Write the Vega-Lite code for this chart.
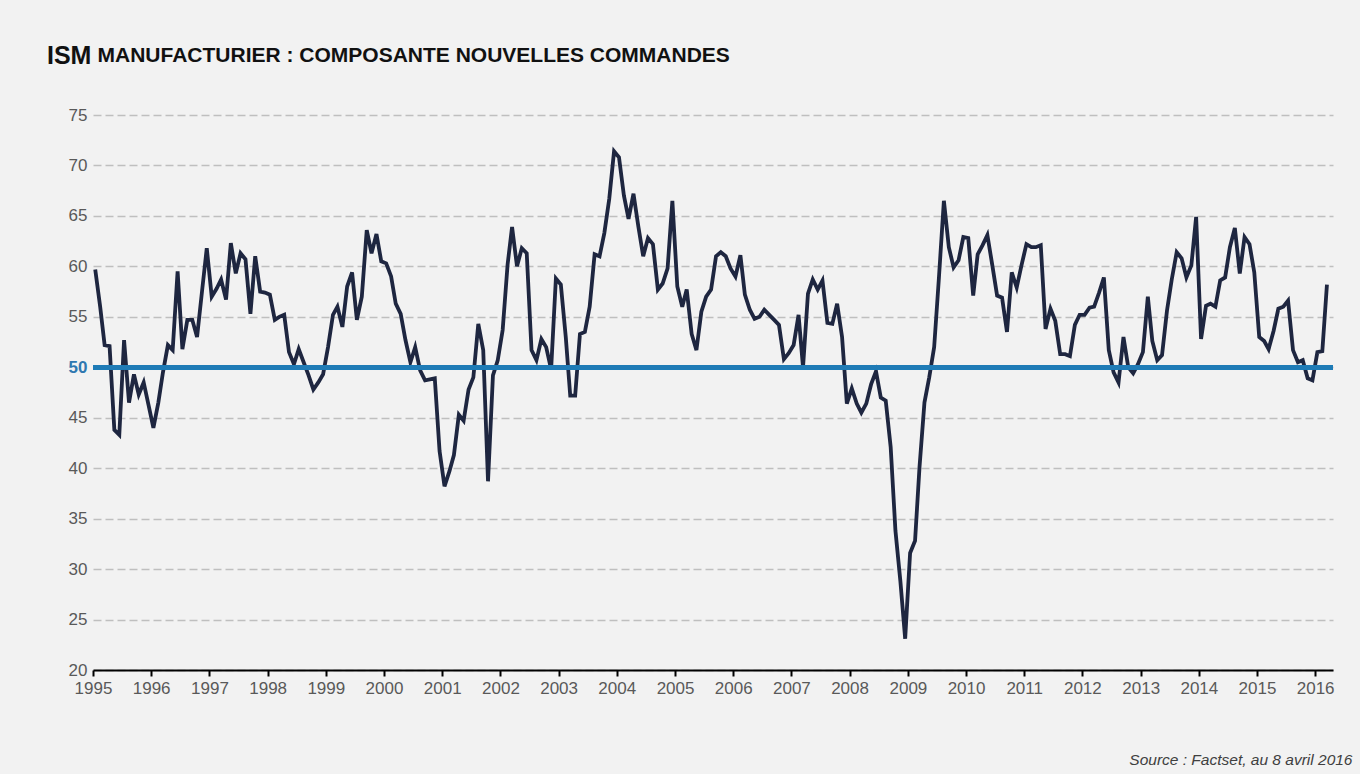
{
  "$schema": "https://vega.github.io/schema/vega-lite/v6.json",
  "width": 1240,
  "height": 555,
  "autosize": {"type": "none"},
  "padding": {"left": 93, "top": 115, "right": 27, "bottom": 104},
  "background": "#F2F2F2",
  "config": {
    "view": {"stroke": null},
    "font": "Liberation Sans"
  },
  "title": {
    "text": "ISM",
    "anchor": "start",
    "frame": "group",
    "dx": -46,
    "offset": -25,
    "font": "Liberation Sans",
    "fontSize": 25,
    "fontWeight": "bold",
    "color": "#111111"
  },
  "data": {
    "values": [
      {"date": "1995-01-15", "value": 59.7}, {"date": "1995-02-15", "value": 56.0}, {"date": "1995-03-15", "value": 52.2}, {"date": "1995-04-15", "value": 52.1}, {"date": "1995-05-15", "value": 43.8}, {"date": "1995-06-15", "value": 43.3}, {"date": "1995-07-15", "value": 52.7}, {"date": "1995-08-15", "value": 46.5}, {"date": "1995-09-15", "value": 49.3}, {"date": "1995-10-15", "value": 47.3}, {"date": "1995-11-15", "value": 48.5}, {"date": "1995-12-15", "value": 46.3},
      {"date": "1996-01-15", "value": 44.0}, {"date": "1996-02-15", "value": 46.5}, {"date": "1996-03-15", "value": 49.5}, {"date": "1996-04-15", "value": 52.2}, {"date": "1996-05-15", "value": 51.7}, {"date": "1996-06-15", "value": 59.5}, {"date": "1996-07-15", "value": 51.8}, {"date": "1996-08-15", "value": 54.7}, {"date": "1996-09-15", "value": 54.7}, {"date": "1996-10-15", "value": 53.0}, {"date": "1996-11-15", "value": 57.5}, {"date": "1996-12-15", "value": 61.8},
      {"date": "1997-01-15", "value": 57.0}, {"date": "1997-02-15", "value": 57.8}, {"date": "1997-03-15", "value": 58.7}, {"date": "1997-04-15", "value": 56.7}, {"date": "1997-05-15", "value": 62.3}, {"date": "1997-06-15", "value": 59.3}, {"date": "1997-07-15", "value": 61.3}, {"date": "1997-08-15", "value": 60.7}, {"date": "1997-09-15", "value": 55.3}, {"date": "1997-10-15", "value": 61.0}, {"date": "1997-11-15", "value": 57.5}, {"date": "1997-12-15", "value": 57.4},
      {"date": "1998-01-15", "value": 57.2}, {"date": "1998-02-15", "value": 54.7}, {"date": "1998-03-15", "value": 55.0}, {"date": "1998-04-15", "value": 55.2}, {"date": "1998-05-15", "value": 51.5}, {"date": "1998-06-15", "value": 50.3}, {"date": "1998-07-15", "value": 51.8}, {"date": "1998-08-15", "value": 50.5}, {"date": "1998-09-15", "value": 49.2}, {"date": "1998-10-15", "value": 47.8}, {"date": "1998-11-15", "value": 48.5}, {"date": "1998-12-15", "value": 49.3},
      {"date": "1999-01-15", "value": 52.0}, {"date": "1999-02-15", "value": 55.2}, {"date": "1999-03-15", "value": 56.0}, {"date": "1999-04-15", "value": 54.0}, {"date": "1999-05-15", "value": 58.0}, {"date": "1999-06-15", "value": 59.4}, {"date": "1999-07-15", "value": 54.7}, {"date": "1999-08-15", "value": 57.0}, {"date": "1999-09-15", "value": 63.6}, {"date": "1999-10-15", "value": 61.3}, {"date": "1999-11-15", "value": 63.2}, {"date": "1999-12-15", "value": 60.5},
      {"date": "2000-01-15", "value": 60.3}, {"date": "2000-02-15", "value": 59.0}, {"date": "2000-03-15", "value": 56.3}, {"date": "2000-04-15", "value": 55.3}, {"date": "2000-05-15", "value": 52.7}, {"date": "2000-06-15", "value": 50.5}, {"date": "2000-07-15", "value": 52.0}, {"date": "2000-08-15", "value": 49.7}, {"date": "2000-09-15", "value": 48.7}, {"date": "2000-10-15", "value": 48.8}, {"date": "2000-11-15", "value": 48.9}, {"date": "2000-12-15", "value": 41.7},
      {"date": "2001-01-15", "value": 38.2}, {"date": "2001-02-15", "value": 39.7}, {"date": "2001-03-15", "value": 41.3}, {"date": "2001-04-15", "value": 45.3}, {"date": "2001-05-15", "value": 44.7}, {"date": "2001-06-15", "value": 47.8}, {"date": "2001-07-15", "value": 49.0}, {"date": "2001-08-15", "value": 54.3}, {"date": "2001-09-15", "value": 51.7}, {"date": "2001-10-15", "value": 38.7}, {"date": "2001-11-15", "value": 49.2}, {"date": "2001-12-15", "value": 50.7},
      {"date": "2002-01-15", "value": 53.7}, {"date": "2002-02-15", "value": 60.2}, {"date": "2002-03-15", "value": 63.9}, {"date": "2002-04-15", "value": 60.0}, {"date": "2002-05-15", "value": 61.8}, {"date": "2002-06-15", "value": 61.3}, {"date": "2002-07-15", "value": 51.7}, {"date": "2002-08-15", "value": 50.7}, {"date": "2002-09-15", "value": 52.8}, {"date": "2002-10-15", "value": 52.0}, {"date": "2002-11-15", "value": 49.8}, {"date": "2002-12-15", "value": 58.8},
      {"date": "2003-01-15", "value": 58.2}, {"date": "2003-02-15", "value": 53.0}, {"date": "2003-03-15", "value": 47.2}, {"date": "2003-04-15", "value": 47.2}, {"date": "2003-05-15", "value": 53.3}, {"date": "2003-06-15", "value": 53.5}, {"date": "2003-07-15", "value": 56.0}, {"date": "2003-08-15", "value": 61.2}, {"date": "2003-09-15", "value": 61.0}, {"date": "2003-10-15", "value": 63.3}, {"date": "2003-11-15", "value": 66.7}, {"date": "2003-12-15", "value": 71.4},
      {"date": "2004-01-15", "value": 70.8}, {"date": "2004-02-15", "value": 67.0}, {"date": "2004-03-15", "value": 64.7}, {"date": "2004-04-15", "value": 67.2}, {"date": "2004-05-15", "value": 64.0}, {"date": "2004-06-15", "value": 61.0}, {"date": "2004-07-15", "value": 62.8}, {"date": "2004-08-15", "value": 62.2}, {"date": "2004-09-15", "value": 57.7}, {"date": "2004-10-15", "value": 58.3}, {"date": "2004-11-15", "value": 59.8}, {"date": "2004-12-15", "value": 66.5},
      {"date": "2005-01-15", "value": 58.0}, {"date": "2005-02-15", "value": 56.0}, {"date": "2005-03-15", "value": 57.7}, {"date": "2005-04-15", "value": 53.3}, {"date": "2005-05-15", "value": 51.7}, {"date": "2005-06-15", "value": 55.5}, {"date": "2005-07-15", "value": 57.0}, {"date": "2005-08-15", "value": 57.7}, {"date": "2005-09-15", "value": 61.0}, {"date": "2005-10-15", "value": 61.4}, {"date": "2005-11-15", "value": 61.0}, {"date": "2005-12-15", "value": 59.8},
      {"date": "2006-01-15", "value": 59.0}, {"date": "2006-02-15", "value": 61.1}, {"date": "2006-03-15", "value": 57.2}, {"date": "2006-04-15", "value": 55.7}, {"date": "2006-05-15", "value": 54.8}, {"date": "2006-06-15", "value": 55.0}, {"date": "2006-07-15", "value": 55.7}, {"date": "2006-08-15", "value": 55.2}, {"date": "2006-09-15", "value": 54.7}, {"date": "2006-10-15", "value": 54.2}, {"date": "2006-11-15", "value": 50.8}, {"date": "2006-12-15", "value": 51.4},
      {"date": "2007-01-15", "value": 52.2}, {"date": "2007-02-15", "value": 55.2}, {"date": "2007-03-15", "value": 50.0}, {"date": "2007-04-15", "value": 57.3}, {"date": "2007-05-15", "value": 58.7}, {"date": "2007-06-15", "value": 57.7}, {"date": "2007-07-15", "value": 58.6}, {"date": "2007-08-15", "value": 54.4}, {"date": "2007-09-15", "value": 54.3}, {"date": "2007-10-15", "value": 56.3}, {"date": "2007-11-15", "value": 53.0}, {"date": "2007-12-15", "value": 46.4},
      {"date": "2008-01-15", "value": 47.9}, {"date": "2008-02-15", "value": 46.4}, {"date": "2008-03-15", "value": 45.5}, {"date": "2008-04-15", "value": 46.4}, {"date": "2008-05-15", "value": 48.3}, {"date": "2008-06-15", "value": 49.6}, {"date": "2008-07-15", "value": 47.0}, {"date": "2008-08-15", "value": 46.7}, {"date": "2008-09-15", "value": 42.1}, {"date": "2008-10-15", "value": 33.8}, {"date": "2008-11-15", "value": 28.8}, {"date": "2008-12-15", "value": 23.1},
      {"date": "2009-01-15", "value": 31.6}, {"date": "2009-02-15", "value": 32.8}, {"date": "2009-03-15", "value": 40.1}, {"date": "2009-04-15", "value": 46.5}, {"date": "2009-05-15", "value": 49.0}, {"date": "2009-06-15", "value": 52.0}, {"date": "2009-07-15", "value": 58.9}, {"date": "2009-08-15", "value": 66.5}, {"date": "2009-09-15", "value": 61.9}, {"date": "2009-10-15", "value": 59.9}, {"date": "2009-11-15", "value": 60.6}, {"date": "2009-12-15", "value": 62.9},
      {"date": "2010-01-15", "value": 62.8}, {"date": "2010-02-15", "value": 57.1}, {"date": "2010-03-15", "value": 61.2}, {"date": "2010-04-15", "value": 62.1}, {"date": "2010-05-15", "value": 63.1}, {"date": "2010-06-15", "value": 60.1}, {"date": "2010-07-15", "value": 57.1}, {"date": "2010-08-15", "value": 56.9}, {"date": "2010-09-15", "value": 53.5}, {"date": "2010-10-15", "value": 59.4}, {"date": "2010-11-15", "value": 57.9}, {"date": "2010-12-15", "value": 60.1},
      {"date": "2011-01-15", "value": 62.2}, {"date": "2011-02-15", "value": 61.9}, {"date": "2011-03-15", "value": 61.9}, {"date": "2011-04-15", "value": 62.1}, {"date": "2011-05-15", "value": 53.8}, {"date": "2011-06-15", "value": 55.8}, {"date": "2011-07-15", "value": 54.6}, {"date": "2011-08-15", "value": 51.3}, {"date": "2011-09-15", "value": 51.3}, {"date": "2011-10-15", "value": 51.1}, {"date": "2011-11-15", "value": 54.2}, {"date": "2011-12-15", "value": 55.2},
      {"date": "2012-01-15", "value": 55.2}, {"date": "2012-02-15", "value": 55.9}, {"date": "2012-03-15", "value": 56.0}, {"date": "2012-04-15", "value": 57.4}, {"date": "2012-05-15", "value": 58.9}, {"date": "2012-06-15", "value": 51.7}, {"date": "2012-07-15", "value": 49.5}, {"date": "2012-08-15", "value": 48.5}, {"date": "2012-09-15", "value": 53.0}, {"date": "2012-10-15", "value": 50.0}, {"date": "2012-11-15", "value": 49.4}, {"date": "2012-12-15", "value": 50.3},
      {"date": "2013-01-15", "value": 51.5}, {"date": "2013-02-15", "value": 57.0}, {"date": "2013-03-15", "value": 52.6}, {"date": "2013-04-15", "value": 50.7}, {"date": "2013-05-15", "value": 51.2}, {"date": "2013-06-15", "value": 55.6}, {"date": "2013-07-15", "value": 58.7}, {"date": "2013-08-15", "value": 61.4}, {"date": "2013-09-15", "value": 60.8}, {"date": "2013-10-15", "value": 58.9}, {"date": "2013-11-15", "value": 60.1}, {"date": "2013-12-15", "value": 64.9},
      {"date": "2014-01-15", "value": 52.8}, {"date": "2014-02-15", "value": 56.1}, {"date": "2014-03-15", "value": 56.3}, {"date": "2014-04-15", "value": 56.0}, {"date": "2014-05-15", "value": 58.6}, {"date": "2014-06-15", "value": 58.9}, {"date": "2014-07-15", "value": 61.9}, {"date": "2014-08-15", "value": 63.8}, {"date": "2014-09-15", "value": 59.3}, {"date": "2014-10-15", "value": 62.9}, {"date": "2014-11-15", "value": 62.2}, {"date": "2014-12-15", "value": 59.4},
      {"date": "2015-01-15", "value": 53.0}, {"date": "2015-02-15", "value": 52.6}, {"date": "2015-03-15", "value": 51.8}, {"date": "2015-04-15", "value": 53.6}, {"date": "2015-05-15", "value": 55.8}, {"date": "2015-06-15", "value": 56.0}, {"date": "2015-07-15", "value": 56.6}, {"date": "2015-08-15", "value": 51.7}, {"date": "2015-09-15", "value": 50.5}, {"date": "2015-10-15", "value": 50.7}, {"date": "2015-11-15", "value": 48.9}, {"date": "2015-12-15", "value": 48.7},
      {"date": "2016-01-15", "value": 51.5}, {"date": "2016-02-15", "value": 51.6}, {"date": "2016-03-15", "value": 58.2}
    ]
  },
  "layer": [
    {
      "mark": {"type": "line", "color": "#1E2640", "strokeWidth": 3.8},
      "encoding": {
        "x": {
          "field": "date",
          "type": "temporal",
          "scale": {
            "type": "utc",
            "domain": [
              {"year": 1995, "month": 1, "date": 1, "utc": true},
              {"year": 2016, "month": 4, "date": 22, "utc": true}
            ],
            "nice": false
          },
          "axis": {
            "format": "%Y",
            "tickCount": {"interval": "year", "step": 1},
            "grid": false,
            "domainColor": "#000000",
            "domainWidth": 2,
            "tickColor": "#000000",
            "tickWidth": 2,
            "tickSize": 6,
            "labelFont": "Liberation Sans",
            "labelFontSize": 17,
            "labelColor": "#595959",
            "labelPadding": 4,
            "labelFlush": false,
            "labelOverlap": false,
            "title": "Source : Factset, au 8 avril 2016",
            "titleFont": "Liberation Sans",
            "titleFontSize": 15.5,
            "titleFontStyle": "italic",
            "titleFontWeight": "normal",
            "titleColor": "#404040",
            "titleAlign": "right",
            "titleAnchor": "end",
            "titleBaseline": "alphabetic",
            "titleX": 1259,
            "titleY": 94
          }
        },
        "y": {
          "field": "value",
          "type": "quantitative",
          "scale": {"domain": [20, 75], "nice": false, "zero": false},
          "axis": {
            "values": [20, 25, 30, 35, 40, 45, 50, 55, 60, 65, 70, 75],
            "title": "MANUFACTURIER : COMPOSANTE NOUVELLES COMMANDES",
            "titleAngle": 0,
            "titleAlign": "left",
            "titleAnchor": "start",
            "titleBaseline": "alphabetic",
            "titleX": 4,
            "titleY": -54,
            "titleFont": "Liberation Sans",
            "titleFontSize": 21,
            "titleFontWeight": "bold",
            "titleColor": "#111111",
            "domain": false,
            "ticks": false,
            "grid": true,
            "gridColor": "#BFBFBF",
            "gridWidth": 1.6,
            "gridDash": [8, 4],
            "labelFont": "Liberation Sans",
            "labelFontSize": 17,
            "labelPadding": 6,
            "labelColor": {"condition": {"test": "datum.value === 50", "value": "#2F78B0"}, "value": "#595959"},
            "labelFontWeight": {"condition": {"test": "datum.value === 50", "value": "bold"}, "value": "normal"}
          }
        }
      }
    },
    {
      "mark": {"type": "rule", "color": "#1F7BB6", "strokeWidth": 4},
      "encoding": {"y": {"datum": 50}}
    }
  ]
}
